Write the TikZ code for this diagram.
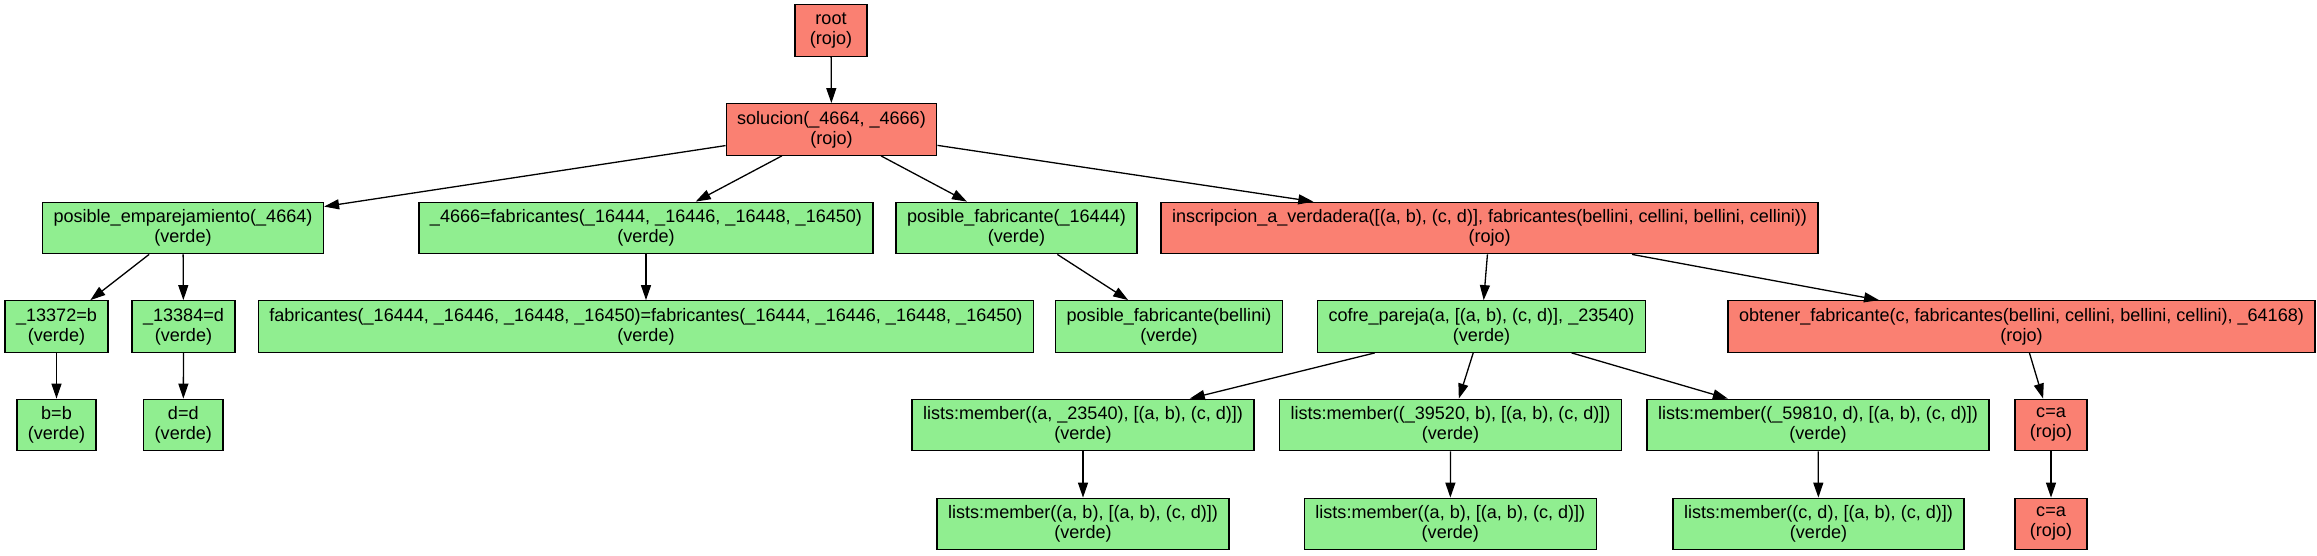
\documentclass[tikz,border=0pt]{standalone}
\usepackage{fontspec}
\setmainfont{Liberation Sans}
\usetikzlibrary{arrows.meta}
\definecolor{salmonc}{HTML}{FA8072}
\definecolor{lgreen}{HTML}{90EE90}
\begin{document}
\begin{tikzpicture}[x=1pt,y=1pt,
  box/.style={draw=black,line width=1.3pt,rectangle,align=center,
    font=\fontsize{18.05}{20}\selectfont,inner xsep=11pt,inner ysep=3pt,
    minimum width=72pt,minimum height=51.5pt},
  rojo/.style={box,fill=salmonc},
  verde/.style={box,fill=lgreen},
  edge/.style={draw=black,line width=1.3pt,-{Triangle[length=15pt,width=10pt]}}]
\useasboundingbox (0,0) rectangle (2317,-555);
% rows
\node[rojo] (root) at (831,-30.5) {root\\(rojo)};
\node[rojo] (sol) at (831.5,-129.5) {solucion(\_4664, \_4666)\\(rojo)};
\node[verde] (pe) at (183,-228) {posible\_emparejamiento(\_4664)\\(verde)};
\node[verde] (f4666) at (646,-228) {\_4666=fabricantes(\_16444, \_16446, \_16448, \_16450)\\(verde)};
\node[verde] (pf) at (1016.5,-228) {posible\_fabricante(\_16444)\\(verde)};
\node[rojo] (insc) at (1489.6,-228) {inscripcion\_a\_verdadera([(a, b), (c, d)], fabricantes(bellini, cellini, bellini, cellini))\\(rojo)};
\node[verde] (e13372) at (56.5,-326.5) {\_13372=b\\(verde)};
\node[verde] (e13384) at (183.5,-326.5) {\_13384=d\\(verde)};
\node[verde] (fab) at (646,-326.5) {fabricantes(\_16444, \_16446, \_16448, \_16450)=fabricantes(\_16444, \_16446, \_16448, \_16450)\\(verde)};
\node[verde] (pfb) at (1169,-326.5) {posible\_fabricante(bellini)\\(verde)};
\node[verde] (cofre) at (1481.5,-326.5) {cofre\_pareja(a, [(a, b), (c, d)], \_23540)\\(verde)};
\node[rojo] (obt) at (2021.5,-326.5) {obtener\_fabricante(c, fabricantes(bellini, cellini, bellini, cellini), \_64168)\\(rojo)};
\node[verde] (bb) at (56.5,-425) {b=b\\(verde)};
\node[verde] (dd) at (183.3,-425) {d=d\\(verde)};
\node[verde] (lm1) at (1083,-425) {lists:member((a, \_23540), [(a, b), (c, d)])\\(verde)};
\node[verde] (lm2) at (1450.5,-425) {lists:member((\_39520, b), [(a, b), (c, d)])\\(verde)};
\node[verde] (lm3) at (1818,-425) {lists:member((\_59810, d), [(a, b), (c, d)])\\(verde)};
\node[rojo] (ca1) at (2051,-425) {c=a\\(rojo)};
\node[verde] (lm4) at (1083,-524) {lists:member((a, b), [(a, b), (c, d)])\\(verde)};
\node[verde] (lm5) at (1450.3,-524) {lists:member((a, b), [(a, b), (c, d)])\\(verde)};
\node[verde] (lm6) at (1818.5,-524) {lists:member((c, d), [(a, b), (c, d)])\\(verde)};
\node[rojo] (ca2) at (2051,-524) {c=a\\(rojo)};
% edges
\path[edge] (root) -- (sol);
\path[edge] (sol) -- (pe);
\path[edge] (sol) -- (f4666);
\path[edge] (sol) -- (pf);
\path[edge] (sol) -- (insc);
\path[edge] (pe) -- (e13372);
\path[edge] (pe) -- (e13384);
\path[edge] (f4666) -- (fab);
\path[edge] (pf) -- (pfb);
\path[edge] (insc) -- (cofre);
\path[edge] (insc) -- (obt);
\path[edge] (e13372) -- (bb);
\path[edge] (e13384) -- (dd);
\path[edge] (cofre) -- (lm1);
\path[edge] (cofre) -- (lm2);
\path[edge] (cofre) -- (lm3);
\path[edge] (obt) -- (ca1);
\path[edge] (lm1) -- (lm4);
\path[edge] (lm2) -- (lm5);
\path[edge] (lm3) -- (lm6);
\path[edge] (ca1) -- (ca2);
\end{tikzpicture}
\end{document}
